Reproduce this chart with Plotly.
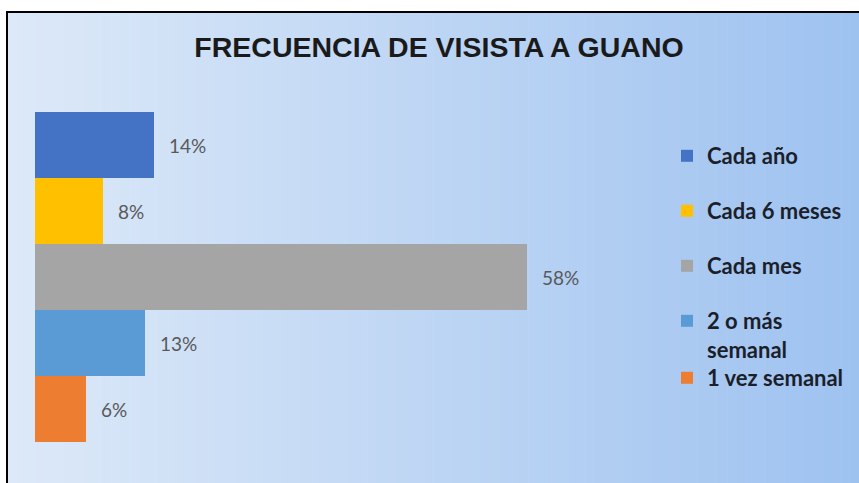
import plotly.graph_objects as go

categories = ["Cada año", "Cada 6 meses", "Cada mes", "2 o más semanal", "1 vez semanal"]
legend_labels = ["Cada año", "Cada 6 meses", "Cada mes", "2 o más<br>semanal", "1 vez semanal"]
values = [14, 8, 58, 13, 6]
colors = ["#4472C4", "#FFC000", "#A5A5A5", "#5B9BD5", "#ED7D31"]
title_text = "FRECUENCIA DE VISISTA A GUANO"

W, H = 859, 483
PL, PR, PT, PB = 35, 620, 112, 442  # plot area in pixels


def sx(px):
    return (px - PL) / (PR - PL)


def sy(py):
    return (PB - py) / (PB - PT)


fig = go.Figure()
legend_names = ["legend", "legend2", "legend3", "legend4", "legend5"]
for i, (cat, lab, val, col) in enumerate(zip(categories, legend_labels, values, colors)):
    fig.add_trace(go.Bar(
        y=[cat], x=[val], orientation="h", name=lab,
        marker=dict(color=col, line=dict(width=0)),
        text=[f"\u2002\u2009{val}%"], textposition="outside", cliponaxis=False,
        textfont=dict(family="Lato", size=19, color="#595959"),
        legend=legend_names[i],
    ))

# background gradient + frame
shapes = []
c0 = (221, 233, 248)
c1 = (158, 194, 240)
x_start, x_end = 7, 860
n = 90
for k in range(n):
    a = x_start + (x_end - x_start) * k / n
    b = x_start + (x_end - x_start) * (k + 1) / n
    t = (k + 0.5) / n
    c = tuple(int(round(c0[j] + (c1[j] - c0[j]) * t)) for j in range(3))
    shapes.append(dict(type="rect", xref="paper", yref="paper", layer="below",
                       x0=sx(a), x1=sx(b + 0.6), y0=sy(13), y1=sy(490),
                       fillcolor=f"rgb{c}", line=dict(width=0)))
shapes.append(dict(type="rect", xref="paper", yref="paper", layer="above",
                   x0=sx(7), x1=sx(880), y0=sy(12), y1=sy(500),
                   line=dict(color="#000000", width=2), fillcolor="rgba(0,0,0,0)"))

legend_text_center = [155, 210, 265, 320, 377]
layout_legends = {}
for i, ln in enumerate(legend_names):
    layout_legends[ln] = dict(
        x=sx(708 - 41), y=sy(legend_text_center[i] - 20), xanchor="left", yanchor="top",
        bgcolor="rgba(0,0,0,0)", borderwidth=0, itemwidth=30, valign="top",
        font=dict(family="Lato", size=22, color="#1b1f2b", weight="bold"),
    )

fig.update_layout(
    width=W, height=H,
    margin=dict(l=PL, r=W - PR, t=PT, b=H - PB, pad=0, autoexpand=False),
    paper_bgcolor="white", plot_bgcolor="rgba(0,0,0,0)",
    barmode="overlay", bargap=0,
    showlegend=True,
    title=dict(text=f"<b>{title_text}</b>", x=439 / W, xanchor="center",
               y=1 - 47 / H, yanchor="middle",
               font=dict(family="Liberation Sans", size=28.5, color="#1a1a1a")),
    xaxis=dict(range=[0, (PR - PL) / 8.48], visible=False, fixedrange=True),
    yaxis=dict(type="category", categoryorder="array", categoryarray=categories,
               range=[4.5, -0.5], visible=False, fixedrange=True),
    shapes=shapes,
    **layout_legends,
)

fig.write_html(
    "out.html",
    config={"displayModeBar": False},
    post_script="document.body.style.margin='0';document.body.style.overflow='hidden';",
)
